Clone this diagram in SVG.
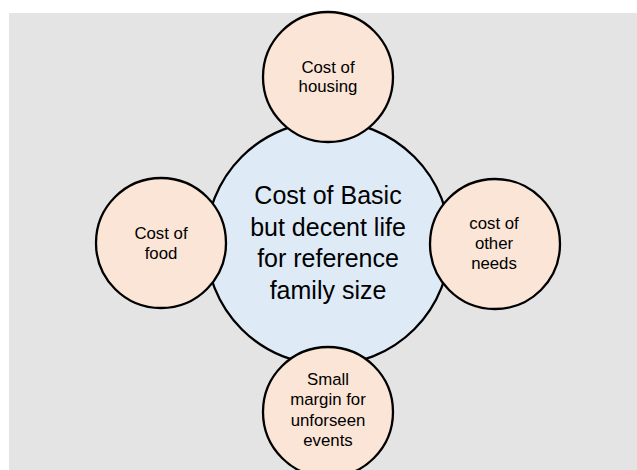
<svg xmlns="http://www.w3.org/2000/svg" width="637" height="470" viewBox="0 0 637 470">
<style>
.bg{fill:#e4e4e4}
.main{fill:#deebf7;stroke:#000;stroke-width:2.3}
.sat{fill:#fbe5d6;stroke:#000;stroke-width:2.3}
text{font-family:"Liberation Sans",Arial,sans-serif;fill:#000;text-anchor:middle}
.big{font-size:25px}
.small{font-size:16.8px}
</style>
<rect x="0" y="0" width="637" height="470" fill="#ffffff"/>
<rect class="bg" x="9" y="13" width="628" height="457"/>
<g id="center">
<circle class="main" cx="328" cy="243" r="122"/>
<text class="big" x="328" y="204">Cost of Basic</text>
<text class="big" x="328" y="236">but decent life</text>
<text class="big" x="328" y="267">for reference</text>
<text class="big" x="328" y="299">family size</text>
</g>
<g id="housing">
<circle class="sat" cx="328" cy="77" r="65"/>
<text class="small" x="328" y="73">Cost of</text>
<text class="small" x="328" y="92">housing</text>
</g>
<g id="food">
<circle class="sat" cx="161" cy="243" r="65"/>
<text class="small" x="161" y="239">Cost of</text>
<text class="small" x="161" y="259">food</text>
</g>
<g id="other">
<circle class="sat" cx="495" cy="244" r="65"/>
<text class="small" x="494" y="229">cost of</text>
<text class="small" x="494" y="249">other</text>
<text class="small" x="494" y="269">needs</text>
</g>
<g id="margin">
<circle class="sat" cx="328" cy="412" r="65"/>
<text class="small" x="328" y="385">Small</text>
<text class="small" x="328" y="405">margin for</text>
<text class="small" x="328" y="426">unforseen</text>
<text class="small" x="328" y="446">events</text>
</g>
<g id="connectors"/>
</svg>
